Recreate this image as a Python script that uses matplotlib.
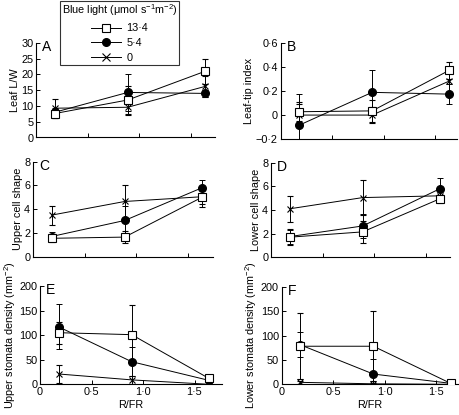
import matplotlib
matplotlib.use("Agg")
import matplotlib.pyplot as plt
from matplotlib.ticker import FuncFormatter
from matplotlib.lines import Line2D

plt.rcParams['font.family'] = ['Liberation Sans', 'DejaVu Sans']
plt.rcParams['mathtext.fontset'] = 'custom'
plt.rcParams['mathtext.rm'] = 'Liberation Sans'
plt.rcParams['font.size'] = 7.5
plt.rcParams['axes.linewidth'] = 0.8

# R/FR values
rfr = [0.18, 0.89, 1.64]
series_labels = ['13·4', '5·4', '0']

# A: leaf L/W
lw_sq = [7.6, 11.9, 21.0]
lw_sq_err = [1.5, 4.5, 4.0]
lw_ci = [8.0, 14.3, 14.0]
lw_ci_err = [1.5, 5.8, 1.0]
lw_x = [9.3, 9.6, 16.2]
lw_x_err = [3.0, 2.5, 3.3]

# B: leaf-tip index
tip_sq = [0.028, 0.035, 0.375]
tip_sq_err = [0.08, 0.095, 0.07]
tip_ci = [-0.085, 0.19, 0.175]
tip_ci_err = [0.26, 0.19, 0.085]
tip_x = [0.0, 0.0, 0.285]
tip_x_err = [0.09, 0.07, 0.1]

# C: upper cell shape
up_sq = [1.55, 1.65, 5.0]
up_sq_err = [0.35, 0.5, 0.8]
up_ci = [1.7, 3.05, 5.8]
up_ci_err = [0.35, 1.25, 0.7]
up_x = [3.5, 4.65, 5.05]
up_x_err = [0.8, 1.4, 0.6]

# D: lower cell shape
lo_sq = [1.7, 2.15, 4.95]
lo_sq_err = [0.7, 0.9, 0.35]
lo_ci = [1.75, 2.65, 5.8]
lo_ci_err = [0.6, 1.0, 0.9]
lo_x = [4.1, 5.05, 5.2]
lo_x_err = [1.1, 1.5, 0.5]

# E: upper stomata density
us_sq = [105, 101, 12]
us_sq_err = [22, 60, 5]
us_ci = [117, 46, 8]
us_ci_err = [46, 30, 4]
us_x = [21, 9, 0]
us_x_err = [19, 8, 2]

# F: lower stomata density
ls_sq = [78, 78, 2]
ls_sq_err = [68, 72, 2]
ls_ci = [81, 21, 2]
ls_ci_err = [26, 31, 2]
ls_x = [4, 1, 0]
ls_x_err = [3, 2, 1]


def dotfmt(v, pos):
    s = '%g' % round(v, 2)
    if s == '-0':
        s = '0'
    return s.replace('-', '\u2212').replace('.', '·')


def xfmt(v, pos):
    if abs(v) < 1e-9:
        return '0'
    return ('%.1f' % v).replace('.', '·')


def draw(ax, sq, sqe, ci, cie, xx, xxe):
    ekw = dict(color='black', lw=0.7, capsize=2.2, capthick=0.7, elinewidth=0.7)
    ax.errorbar(rfr, xx, yerr=xxe, marker='x', ms=5, mew=0.8, mfc='black', mec='black', zorder=3, **ekw)
    ax.errorbar(rfr, ci, yerr=cie, marker='o', ms=5.5, mfc='black', mec='black', zorder=4, **ekw)
    ax.errorbar(rfr, sq, yerr=sqe, marker='s', ms=6, mfc='white', mec='black', mew=0.8, zorder=5, **ekw)


W, H = 459, 415
fig = plt.figure(figsize=(W / 100, H / 100), dpi=100)

# panel boxes in pixels: left, right, top, bottom
boxes = [
    (36, 215, 43, 137.5),
    (280.5, 457, 43.3, 139),
    (33, 213, 161.7, 256.7),
    (271, 450, 162.7, 257.3),
    (40, 221.7, 286, 384.3),
    (281.7, 458, 286.7, 384.3),
]
px_per_unit = 103.0

panels = [
    ('A', 'Leaf L/W', (lw_sq, lw_sq_err, lw_ci, lw_ci_err, lw_x, lw_x_err), (0, 30), [0, 5, 10, 15, 20, 25, 30]),
    ('B', 'Leaf-tip index', (tip_sq, tip_sq_err, tip_ci, tip_ci_err, tip_x, tip_x_err), (-0.2, 0.6), [-0.2, 0, 0.2, 0.4, 0.6]),
    ('C', 'Upper cell shape', (up_sq, up_sq_err, up_ci, up_ci_err, up_x, up_x_err), (0, 8), [0, 2, 4, 6, 8]),
    ('D', 'Lower cell shape', (lo_sq, lo_sq_err, lo_ci, lo_ci_err, lo_x, lo_x_err), (0, 8), [0, 2, 4, 6, 8]),
    ('E', 'Upper stomata density (mm$^{-2}$)', (us_sq, us_sq_err, us_ci, us_ci_err, us_x, us_x_err), (0, 200), [0, 50, 100, 150, 200]),
    ('F', 'Lower stomata density (mm$^{-2}$)', (ls_sq, ls_sq_err, ls_ci, ls_ci_err, ls_x, ls_x_err), (0, 200), [0, 50, 100, 150, 200]),
]

for i, (letter, ylabel, data, ylim, yticks) in enumerate(panels):
    row = i // 2
    l, r, t, b = boxes[i]
    ax = fig.add_axes([l / W, 1 - b / H, (r - l) / W, (b - t) / H])
    draw(ax, *data)
    ax.set_xlim(0, (r - l) / px_per_unit)
    ax.set_ylim(*ylim)
    ax.set_yticks(yticks)
    ax.set_xticks([0, 0.5, 1.0, 1.5])
    ax.yaxis.set_major_formatter(FuncFormatter(dotfmt))
    ax.xaxis.set_major_formatter(FuncFormatter(xfmt))
    for s in ['top', 'right']:
        ax.spines[s].set_visible(False)
    ax.tick_params(direction='in', length=3, width=0.7, labelsize=7.8, pad=2)
    ax.set_ylabel(ylabel, fontsize=7.8, labelpad=1)
    if row < 2:
        ax.tick_params(axis='x', labelbottom=False)
    else:
        ax.set_xlabel('R/FR', fontsize=7.8, labelpad=2)
    ax.text(0.035, 1.03, letter, transform=ax.transAxes, fontsize=10, va='top', ha='left')

handles = [
    Line2D([], [], color='black', lw=0.7, marker='s', ms=6, mfc='white', mec='black', mew=0.8),
    Line2D([], [], color='black', lw=0.7, marker='o', ms=5.5, mfc='black', mec='black'),
    Line2D([], [], color='black', lw=0.7, marker='x', ms=6, mew=0.8, mec='black'),
]
leg = fig.legend(handles, series_labels, title='Blue light (μmol s$^{-1}$m$^{-2}$)',
                 loc='upper left', bbox_to_anchor=(60 / W, 1 - 1 / H), borderaxespad=0,
                 fontsize=7.8, title_fontsize=7.8, handlelength=2.8, frameon=True,
                 fancybox=False, edgecolor='black', borderpad=0.15, labelspacing=0.45,
                 handletextpad=0.5)
leg.get_frame().set_linewidth(0.8)

fig.savefig('out.png', dpi=100)
